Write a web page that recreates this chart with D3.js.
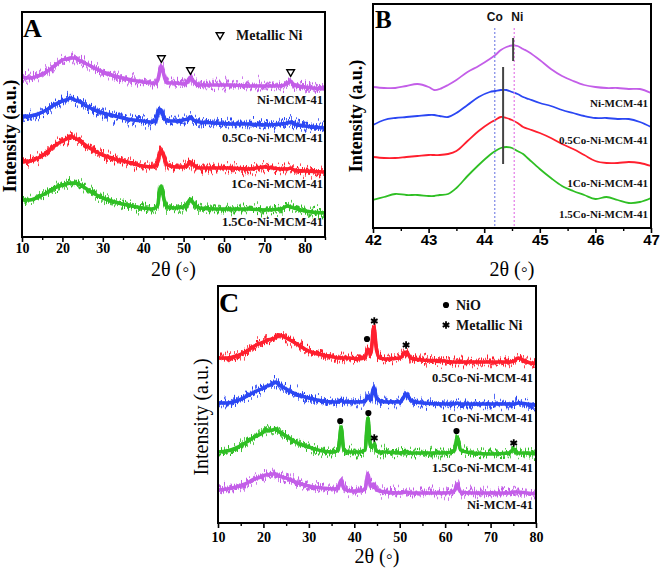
<!DOCTYPE html>
<html><head><meta charset="utf-8">
<script src="https://cdn.jsdelivr.net/npm/d3@7"></script>
<style>body{margin:0;background:#fff} svg{display:block;background:#fff}</style>
</head><body>
<svg id="chart" width="661" height="570"></svg>
<script>
// ---------- Panel A (2θ 10–85, wide-angle XRD after reduction) ----------
const xA = [10,12,14,16,18,20,21,22,23,24,26,28,30,33,36,40,42,43,43.6,44,44.4,44.8,45.4,46,48,50,51,51.7,52.4,54,58,62,66,70,74,75.8,76.5,77.3,80,85];
const aNi   = [160,159,161,165,171,177,178,179,179,177,173,169,165,161,158,155,154,154,157,164,171,167,158,154,154,153,156,160,156,152,152,152,151,151,151,154,156,152,150,148];
const aCo05 = [120,121,123,127,132,136,137,139,137,136,131,127,124,121,118,116,115,116,124,128,127,123,118,116,116,117,118,120,117,115,114,113,113,112,113,114,115,113,111,109];
const aCo1  = [75,76,79,84,91,96,98,101,99,97,91,86,82,78,75,71,70,71,75,83,87,84,77,72,70,70,72,75,72,69,69,69,68,70,68,68,69,67,66,65];
const aCo15 = [37,37,40,44,49,52,53,54,54,53,48,43,39,35,32,29,28,29,32,44,51,44,34,30,29,30,34,38,34,29,28,28,28,27,28,31,30,29,26,24];
const ticksA = [10,20,30,40,50,60,70,80];
const namesA = ["Ni-MCM-41","0.5Co-Ni-MCM-41","1Co-Ni-MCM-41","1.5Co-Ni-MCM-41"];
const labelYA = [133,95,49.5,11];          // label baseline heights (a.u.)
const niPeaksA = [44.5,51.7,76.5];
const niMarkYA = [179,167,165];

// ---------- Panel B (2θ 42–47, Ni(111) region) ----------
const xB = [42,42.2,42.4,42.6,42.8,43,43.1,43.2,43.35,43.5,43.7,43.9,44.1,44.2,44.3,44.4,44.5,44.6,44.7,44.8,45,45.2,45.4,45.6,45.8,46,46.2,46.4,46.6,46.8,47];
const bNi   = [141,140,140,142,144,141,138,139,143,148,156,162,169,173,178,181,182.5,182,179,176,168,159,152,147,143,141,140,140,139,139,135];
const bCo05 = [103,108,110,111,112,113,113,112,111,115,123,131,136,137,138,138,136,134,131,129,125,122,118,115,112,110,110,109,109,106,101];
const bCo1  = [71,70,70,71,72,73,73,73,74,77,87,97,105,108,111,110,108,105,101,99,95,90,84,79,73,67,65,65,66,65,62];
const bCo15 = [28,31,34,33,33,32,32,33,34,40,52,63,73,77,80,81,80,77,74,69,59,50,42,37,33,29,31,28,25,26,30];
const ticksB = [42,43,44,45,46,47];
const labelYB = [121,84,41.5,10.5];
const refLinesB = [{name:"Co", x:44.19, color:"#7d86e6"},{name:"Ni", x:44.54, color:"#e47ae8"}];
const barsB = [{x:44.52, y0:167, y1:190},{x:44.34, y0:64, y1:161}];

// ---------- Panel C (2θ 10–80, before reduction) ----------
const xC = [10,12,14,16,18,20,20.4,20.8,22,22.6,23.5,25,27,30,33,35.5,36.5,37.1,37.7,39,41,42.4,43,43.6,44.3,44.9,45.6,47,50,51.5,52.4,55,60,62,62.7,63.4,66,70,74,75.2,76,78,80];
const cCo05 = [165,165,167,171,177,181,182,183,184,185,188,185,180,172,168,166,165,165,165,165,164,166,174,169,196,173,165,164,165,171,165,163,162,161,161,161,161,161,161,162,165,161,159];
const cCo1  = [120,120,122,126,131,135,136,137,139,141,138,134,129,125,122,121,121,123,121,121,121,122,127,123,136,125,122,121,121,129,123,120,119,119,120,119,119,119,119,119,120,119,118];
const cCo15 = [71,72,75,80,86,91,94,92,93,94,91,87,81,76,72,71,73,96,73,71,71,73,105,76,78,72,71,71,70,71,70,70,70,72,86,73,70,69,70,74,70,70,69];
const cNi   = [33,34,36,39,44,47,48,48,49,49,47,45,41,37,35,34,36,43,35,32,32,34,49,37,39,33,32,31,30,31,30,30,30,32,38,31,30,30,30,31,31,30,29];
const ticksC = [10,20,30,40,50,60,70,80];
const namesC = ["0.5Co-Ni-MCM-41","1Co-Ni-MCM-41","1.5Co-Ni-MCM-41","Ni-MCM-41"];
const labelYC = [141,101,51,14];
const nioMarksC = [{x:42.8,y:184},{x:36.9,y:102},{x:43.1,y:110},{x:62.5,y:92}];
const niMarksC  = [{x:44.4,y:202},{x:51.4,y:178},{x:44.4,y:85},{x:75.1,y:80}];

const COL = {purple:"#c35ee8", blue:"#2b47f3", red:"#ff1f2e", green:"#2fbf24"};
const SERIF = "'Liberation Serif','Times New Roman',serif";
const SANS  = "'Liberation Sans',Arial,sans-serif";

const svg = d3.select("#chart");
svg.append("rect").attr("width",661).attr("height",570).attr("fill","#fff");
const defs = svg.append("defs");
// rendering texture only: purely vertical jitter of the stroke to mimic counting noise
function fuzz(id, seed, scale, freq){
  const f = defs.append("filter").attr("id",id).attr("filterUnits","userSpaceOnUse")
    .attr("color-interpolation-filters","sRGB")
    .attr("x",0).attr("y",0).attr("width",661).attr("height",570);
  f.append("feTurbulence").attr("type","fractalNoise").attr("baseFrequency",freq)
    .attr("numOctaves",3).attr("seed",seed).attr("result","n0");
  f.append("feColorMatrix").attr("in","n0").attr("type","matrix")
    .attr("values","0 0 0 0 0.5  0 1 0 0 0  0 0 0 0 0  0 0 0 0 1").attr("result","n");
  f.append("feDisplacementMap").attr("in","SourceGraphic").attr("in2","n").attr("scale",scale)
    .attr("xChannelSelector","R").attr("yChannelSelector","G");
}
fuzz("fuzz1", 3, 18, "0.9 0.03");
fuzz("fuzz2", 17, 24, "1.3 0.02");

function panel(o){
  const g = svg.append("g");
  const x = d3.scaleLinear().domain(o.xDomain).range([o.left,o.right]);
  const y = d3.scaleLinear().domain(o.yDomain).range([o.bottom,o.top]);
  const clipId = "clip"+o.id;
  defs.append("clipPath").attr("id",clipId).append("rect")
    .attr("x",o.left).attr("y",o.top).attr("width",o.right-o.left).attr("height",o.bottom-o.top);
  const lg = g.append("g").attr("clip-path",`url(#${clipId})`);
  const line = d3.line().x((d,i)=>x(o.xs[i])).y(d=>y(d)).curve(o.curve);
  o.series.forEach(s=>{
    if(o.noisy){
      lg.append("path").attr("d",line(s.values)).attr("fill","none").attr("stroke",s.color)
        .attr("stroke-width",2.5).attr("opacity",0.8).attr("filter","url(#fuzz2)");
      lg.append("path").attr("d",line(s.values)).attr("fill","none").attr("stroke",s.color)
        .attr("stroke-width",3).attr("filter","url(#fuzz1)");
      lg.append("path").attr("d",line(s.values)).attr("fill","none").attr("stroke",s.color)
        .attr("stroke-width",3.6).attr("stroke-linejoin","round");
    } else {
      lg.append("path").attr("d",line(s.values)).attr("fill","none").attr("stroke",s.color)
        .attr("stroke-width",1.8).attr("stroke-linejoin","round");
    }
  });
  // frame
  g.append("rect").attr("x",o.left).attr("y",o.top).attr("width",o.right-o.left).attr("height",o.bottom-o.top)
    .attr("fill","none").attr("stroke","#000").attr("stroke-width",2);
  // axes
  const ax = g.append("g").attr("transform",`translate(0,${o.bottom})`)
    .call(d3.axisBottom(x).tickValues(o.ticks).tickSize(5).tickPadding(o.pad).tickFormat(d3.format("d")));
  ax.select(".domain").remove();
  ax.selectAll("line").attr("stroke","#000").attr("stroke-width",1.6);
  ax.selectAll("text").attr("font-family",o.tickFont).attr("font-weight","bold")
    .attr("font-size",o.tickSize).attr("fill","#000");
  const mn = g.append("g").attr("transform",`translate(0,${o.bottom})`)
    .call(d3.axisBottom(x).tickValues(o.minor).tickSize(3).tickFormat(""));
  mn.select(".domain").remove();
  mn.selectAll("line").attr("stroke","#000").attr("stroke-width",1.4);
  // series labels
  o.series.forEach((s,i)=>{
    g.append("text").attr("x",o.right-o.labelInset).attr("y",y(o.labelY[i])).attr("text-anchor","end")
      .attr("font-family",SERIF).attr("font-weight","bold").attr("font-size",o.labelSize).attr("fill","#111")
      .text(s.name);
  });
  // panel letter
  g.append("text").attr("x",o.left+o.letterDx).attr("y",o.top+o.letterDy).attr("font-family",SERIF)
    .attr("font-weight","bold").attr("font-size",o.letterSize).attr("fill","#000").text(o.id);
  // axis titles
  g.append("text").attr("transform",`translate(${o.yTitleX},${o.yTitleY}) rotate(-90)`).attr("text-anchor","middle")
    .attr("font-family",SERIF).attr("font-weight",o.yTitleWeight).attr("font-size",o.yTitleSize).attr("fill","#000")
    .text("Intensity (a.u.)");
  g.append("text").attr("x",(o.left+o.right)/2).attr("y",o.xTitleY).attr("text-anchor","middle")
    .attr("font-family",SERIF).attr("font-size",20).attr("fill","#000").text("2θ (◦)");
  return {g,x,y};
}

// ---- A ----
const A = panel({id:"A", left:22, right:325, top:12, bottom:237, xDomain:[10,85], yDomain:[0,225],
  xs:xA, noisy:true, curve:d3.curveMonotoneX,
  series:[{name:namesA[0],values:aNi,color:COL.purple},{name:namesA[1],values:aCo05,color:COL.blue},
          {name:namesA[2],values:aCo1,color:COL.red},{name:namesA[3],values:aCo15,color:COL.green}],
  ticks:ticksA, minor:[15,25,35,45,55,65,75,85], pad:1, tickFont:SERIF, tickSize:14,
  labelY:labelYA, labelInset:2, labelSize:12.5, letterDx:1, letterDy:25, letterSize:26,
  yTitleX:16, yTitleY:136, yTitleWeight:"bold", yTitleSize:18, xTitleY:276});
const triUp = d3.symbol().type(d3.symbolTriangle2).size(42);
niPeaksA.forEach((p,i)=>{
  A.g.append("path").attr("d",triUp()).attr("transform",`translate(${A.x(p)},${A.y(niMarkYA[i])}) rotate(180)`)
    .attr("fill","none").attr("stroke","#000").attr("stroke-width",1.4);
});
A.g.append("path").attr("d",triUp()).attr("transform",`translate(220,35) rotate(180)`)
  .attr("fill","none").attr("stroke","#000").attr("stroke-width",1.4);
A.g.append("text").attr("x",236).attr("y",40).attr("font-family",SERIF).attr("font-weight","bold")
  .attr("font-size",14).attr("fill","#111").text("Metallic Ni");

// ---- B ----
const B = panel({id:"B", left:373, right:651, top:4, bottom:228, xDomain:[42,47], yDomain:[0,224],
  xs:xB, noisy:false, curve:d3.curveCatmullRom,
  series:[{name:namesA[0],values:bNi,color:COL.purple},{name:namesA[1],values:bCo05,color:COL.blue},
          {name:namesA[2],values:bCo1,color:COL.red},{name:namesA[3],values:bCo15,color:COL.green}],
  ticks:ticksB, minor:[42.5,43.5,44.5,45.5,46.5], pad:1.5, tickFont:SANS, tickSize:15,
  labelY:labelYB, labelInset:3, labelSize:11, letterDx:2, letterDy:24, letterSize:25,
  yTitleX:362, yTitleY:116, yTitleWeight:"bold", yTitleSize:18, xTitleY:276});
refLinesB.forEach(r=>{
  B.g.append("line").attr("x1",B.x(r.x)).attr("x2",B.x(r.x)).attr("y1",28).attr("y2",228)
    .attr("stroke",r.color).attr("stroke-width",1.2).attr("stroke-dasharray","2,2");
  B.g.append("text").attr("x",B.x(r.x)+(r.name==="Ni"?3:0)).attr("y",21).attr("text-anchor","middle")
    .attr("font-family",SANS).attr("font-weight","bold").attr("font-size",12).attr("fill","#111").text(r.name);
});
barsB.forEach(b=>{
  B.g.append("line").attr("x1",B.x(b.x)).attr("x2",B.x(b.x)).attr("y1",B.y(b.y0)).attr("y2",B.y(b.y1))
    .attr("stroke","#444").attr("stroke-width",2);
});

// ---- C ----
const C = panel({id:"C", left:218, right:536, top:286, bottom:523, xDomain:[10,80], yDomain:[0,237],
  xs:xC, noisy:true, curve:d3.curveMonotoneX,
  series:[{name:namesC[0],values:cCo05,color:COL.red},{name:namesC[1],values:cCo1,color:COL.blue},
          {name:namesC[2],values:cCo15,color:COL.green},{name:namesC[3],values:cNi,color:COL.purple}],
  ticks:ticksC, minor:[15,25,35,45,55,65,75], pad:4.5, tickFont:SERIF, tickSize:14,
  labelY:labelYC, labelInset:3, labelSize:12.5, letterDx:1, letterDy:26, letterSize:28,
  yTitleX:208, yTitleY:417, yTitleWeight:"normal", yTitleSize:20, xTitleY:563});
const dot = d3.symbol().type(d3.symbolCircle).size(30);
const star = d3.symbol().type(d3.symbolAsterisk).size(40);
nioMarksC.forEach(m=>{
  C.g.append("path").attr("d",dot()).attr("transform",`translate(${C.x(m.x)},${C.y(m.y)})`).attr("fill","#000");
});
niMarksC.forEach(m=>{
  C.g.append("path").attr("d",star()).attr("transform",`translate(${C.x(m.x)},${C.y(m.y)})`)
    .attr("fill","none").attr("stroke","#000").attr("stroke-width",1.8);
});
C.g.append("path").attr("d",dot()).attr("transform","translate(446,305)").attr("fill","#000");
C.g.append("text").attr("x",456).attr("y",310).attr("font-family",SERIF).attr("font-weight","bold")
  .attr("font-size",14).attr("fill","#111").text("NiO");
C.g.append("path").attr("d",star()).attr("transform","translate(446,325)").attr("fill","none")
  .attr("stroke","#000").attr("stroke-width",1.8);
C.g.append("text").attr("x",456).attr("y",330).attr("font-family",SERIF).attr("font-weight","bold")
  .attr("font-size",14).attr("fill","#111").text("Metallic Ni");
</script>
</body></html>
